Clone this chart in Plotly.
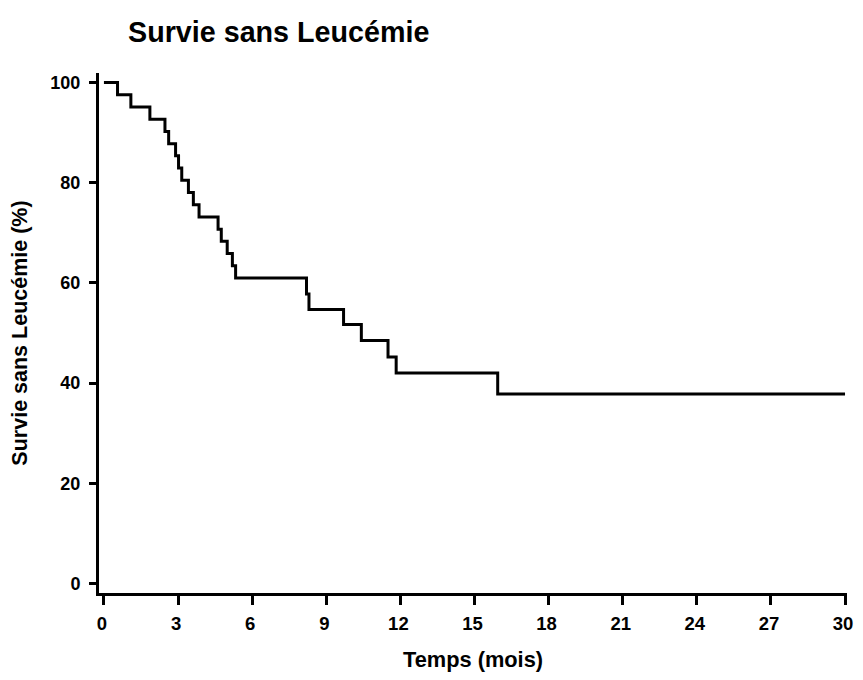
import plotly.graph_objects as go

temps = [0, 0.55, 1.09, 1.86, 2.47, 2.62, 2.9, 3.02, 3.15, 3.42, 3.62, 3.85,
         4.62, 4.75, 4.99, 5.2, 5.33, 8.2, 8.3, 9.7, 10.42, 11.5, 11.83, 15.94, 30]
survie = [100, 97.56, 95.12, 92.68, 90.24, 87.80, 85.37, 82.93, 80.49, 78.05, 75.61, 73.17,
          70.73, 68.29, 65.85, 63.41, 60.98, 57.8, 54.7, 51.7, 48.5, 45.2, 42.0, 37.8, 37.8]

x_ticks = [0, 3, 6, 9, 12, 15, 18, 21, 24, 27, 30]
y_ticks = [0, 20, 40, 60, 80, 100]

police = 'Liberation Sans, Arial, sans-serif'

# la page html ajoute une marge de 8 px autour de la figure
W, H = 863 - 16, 680 - 16

fig = go.Figure(
    go.Scatter(
        x=temps,
        y=survie,
        mode='lines',
        line=dict(color='#000000', width=3, shape='hv'),
        showlegend=False,
        cliponaxis=False
    )
)

fig.update_layout(
    width=W,
    height=H,
    paper_bgcolor='#ffffff',
    plot_bgcolor='#ffffff',
    margin=dict(l=91, r=8, t=65, b=79),
    font=dict(family=police, color='#000000', size=18, weight='bold'),
    title=dict(
        text='Survie sans Leucémie',
        font=dict(size=28.7, weight='bold'),
        xref='container', yref='container',
        x=120 / W, xanchor='left',
        y=1 - 24 / H, yanchor='middle',
        automargin=False
    )
)

fig.update_xaxes(
    range=[-0.2, 30.08],
    tickvals=x_ticks,
    ticks='outside', ticklen=9, tickwidth=3, tickcolor='#000000',
    showline=True, linewidth=3, linecolor='#000000',
    showgrid=False, zeroline=False, automargin=False,
    ticklabelstandoff=3, ticklabeloverflow='allow', ticklabelshift=-2,
    tickfont=dict(size=18.5, weight='bold'),
    title=dict(text='Temps (mois)', font=dict(size=21.8, weight='bold'), standoff=26)
)

fig.update_yaxes(
    range=[-1.9, 101.9],
    tickvals=y_ticks,
    ticks='outside', ticklen=7, tickwidth=3, tickcolor='#000000',
    showline=True, linewidth=3, linecolor='#000000',
    showgrid=False, zeroline=False, automargin=False,
    ticklabelstandoff=5, ticklabeloverflow='allow',
    tickfont=dict(size=18, weight='bold'),
    title=dict(text='Survie sans Leucémie (%)', font=dict(size=21.5, weight='bold'), standoff=17)
)

fig.write_html("out.html")
